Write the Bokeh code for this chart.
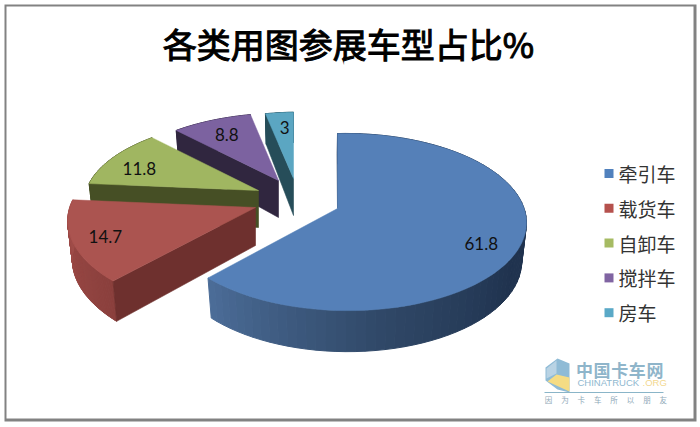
import math
from bokeh.plotting import figure
from bokeh.core.properties import value
from bokeh.embed import file_html
from bokeh.resources import INLINE

# ---- data ----
title_text = "各类用图参展车型占比%"
categories = ["牵引车", "载货车", "自卸车", "搅拌车", "房车"]
values = [61.8, 14.7, 11.8, 8.8, 3]
value_labels = ["61.8", "14.7", "11.8", "8.8", "3"]

# ---- styles ----
top_colors = ["#5580b8", "#ab5450", "#a0b661", "#7c62a0", "#5ba6c2"]
wall_colors = ["#1f3350", "#6e302e", "#464f25", "#30263f", "#264d59"]
legend_colors = ["#5181bd", "#b5514d", "#a6bb63", "#8064a2", "#5aa9c7"]

# ---- 3D projection layout (page pixels) ----
W, H = 698, 424
apex_px = [(337, 208), (255, 207), (258, 190), (278, 180), (293, 178)]
scale_x = [1.0, 1.10, 1.02, 0.98, 0.98]
scale_y = [1.0, 1.06, 0.95, 0.90, 0.885]
depth0 = [38, 38, 37, 37, 37]
label_nudge = [(2, 8), (-9, 3), (-7, 3), (0, 0), (2, 0)]
R, KR, PZ, QX = 177.3, 86.4, 0.1525, -0.05
SHRINK = 0.975


def offset(theta, i):
    sn, cs = math.sin(theta), math.cos(theta)
    s = 1.0 / (1 + PZ * cs + QX * sn)
    return R * sn * s * scale_x[i], -KR * cs * s * scale_y[i]


def lower(ax, ay, dx, dy, d0):
    d = d0 + (0.1 * dy if dy < 0 else 0.03 * dy)
    return ax + dx * SHRINK, ay + dy + d


def mix(a, b, t):
    ca = [int(a[i:i + 2], 16) for i in (1, 3, 5)]
    cb = [int(b[i:i + 2], 16) for i in (1, 3, 5)]
    return "#%02x%02x%02x" % tuple(round(x + (y - x) * t) for x, y in zip(ca, cb))


p = figure(width=W, height=H, x_range=(0, W), y_range=(H, 0), toolbar_location=None,
           output_backend="svg", min_border=0, outline_line_color=None,
           background_fill_color="white", border_fill_color="white")
p.axis.visible = False
p.grid.visible = False

# chart frame
p.quad(left=[4], right=[696], top=[4], bottom=[421], fill_color="#828282", line_color=None)
p.quad(left=[6], right=[693], top=[6], bottom=[418], fill_color="white", line_color=None)

total = sum(values)
edges = [0.0]
for v in values:
    edges.append(edges[-1] + v / total * 2 * math.pi)

side_stops = {
    0: [(0.0, "#20334f"), (0.55, "#20334f"), (0.75, "#2f4766"), (1.0, "#4b6c97")],
    1: [(0.0, "#8a3f3c"), (1.0, "#a34f4b")],
}


def stop_color(stops, t):
    for (t0, c0), (t1, c1) in zip(stops, stops[1:]):
        if t <= t1:
            return mix(c0, c1, (t - t0) / (t1 - t0))
    return stops[-1][1]


for i in [4, 3, 2, 1, 0]:
    ax, ay = apex_px[i]
    t0, t1 = edges[i], edges[i + 1]
    n = 80
    thetas = [t0 + (t1 - t0) * j / n for j in range(n + 1)]
    pts = [offset(t, i) for t in thetas]
    tops = [(ax + dx, ay + dy) for dx, dy in pts]
    bots = [lower(ax, ay, dx, dy, depth0[i]) for dx, dy in pts]

    # outer curved side, shaded along the arc
    stops = side_stops.get(i, [(0.0, wall_colors[i]), (1.0, wall_colors[i])])
    xs, ys, cs = [], [], []
    for j in range(n):
        xs.append([tops[j][0], tops[j + 1][0], bots[j + 1][0], bots[j][0]])
        ys.append([tops[j][1], tops[j + 1][1], bots[j + 1][1], bots[j][1]])
        cs.append(stop_color(stops, j / (n - 1)))
    p.patches(xs, ys, fill_color=cs, line_color=cs, line_width=1)

    # flat wall along the starting radius
    bx, by = lower(ax, ay, 0, 0, depth0[i])
    if i == 0:
        # only a sliver of the first wall shows at the top of the big slice
        p.patch([tops[0][0], tops[0][0] - 0.5, ax], [tops[0][1], tops[0][1] + 20, ay],
                fill_color=wall_colors[i], line_color=wall_colors[i], line_width=0.6)
    else:
        p.patch([ax, tops[0][0], bots[0][0], bx], [ay, tops[0][1], bots[0][1], by],
                fill_color=wall_colors[i], line_color=wall_colors[i], line_width=0.6)

    # top surface
    p.patch([ax] + [q[0] for q in tops], [ay] + [q[1] for q in tops],
            fill_color=top_colors[i], line_color=top_colors[i], line_width=0.5)

# value labels
for i, lab in enumerate(value_labels):
    mid = (edges[i] + edges[i + 1]) / 2
    dx, dy = offset(mid, i)
    p.text([apex_px[i][0] + 0.77 * dx + label_nudge[i][0]], [apex_px[i][1] + 0.77 * dy + label_nudge[i][1]],
           text=[lab], text_font=value("Lato"), text_font_size="17px", text_color="#111111",
           text_align="center", text_baseline="middle")

# title
p.text([348], [43], text=[title_text], text_font=value("Noto Sans CJK SC"), text_font_size="34px",
       text_font_style="normal", text_color="#000000", text_outline_color="#000000",
       text_align="center", text_baseline="middle")

# legend
leg_y0, leg_step = 173, 34.8
for i, name in enumerate(categories):
    y = leg_y0 + i * leg_step
    p.rect([608.5], [y], width=9, height=9, fill_color=legend_colors[i], line_color=None)
    p.text([618], [y], text=[name], text_font=value("Noto Sans CJK SC"), text_font_size="19px",
           text_color="#333333", text_align="left", text_baseline="middle")

# watermark logo
p.patch([545, 557, 569, 569, 557, 545], [367, 358, 363, 392, 389, 380], fill_color="#8fbbd6", line_color=None)
p.patch([556, 569, 569, 547], [374, 377, 391, 381], fill_color="#f5dc84", line_color=None)
p.patch([546, 556, 556, 546], [368, 360, 373, 378], fill_color="#b9d3e4", line_color=None)
for j, ch in enumerate("中国卡车网"):
    p.text([584 + j * 17.6], [369], text=[ch], text_font=value("Noto Sans CJK SC"), text_font_size="17px",
           text_font_style="bold", text_color="#8fb5ca", text_align="center", text_baseline="middle")
p.text([577], [382], text=["CHINATRUCK"], text_font=value("Liberation Sans"), text_font_size="9.5px",
       text_color="#8fb8cf", text_align="left", text_baseline="middle")
p.text([642], [382], text=[".ORG"], text_font=value("Liberation Sans"), text_font_size="9.5px",
       text_color="#f3d890", text_align="left", text_baseline="middle")
p.line([544, 663], [392, 392], line_color="#8ab5c8", line_width=1)
for j, ch in enumerate("因为卡车所以朋友"):
    p.text([548 + j * 16.4], [398.5], text=[ch], text_font=value("Noto Sans CJK SC"), text_font_size="7.5px",
           text_color="#8fa9b8", text_align="center", text_baseline="middle")

open("out.html", "w").write(file_html(p, INLINE))
